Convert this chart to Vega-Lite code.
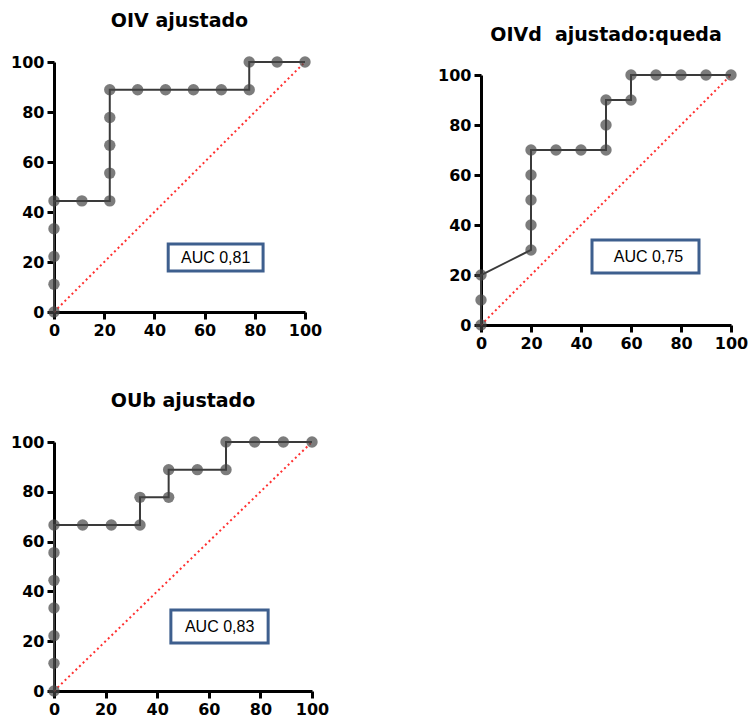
{
  "$schema": "https://vega.github.io/schema/vega-lite/v6.json",
  "padding": {"left": 10, "top": 12, "right": 5, "bottom": 5},
  "background": "white",
  "config": {
    "view": {"stroke": null},
    "axis": {
      "domainColor": "black", "domainWidth": 3, "tickColor": "black", "tickWidth": 3, "tickSize": 7,
      "labelFont": "DejaVu Sans", "labelFontWeight": "bold", "labelFontSize": 16, "labelColor": "black",
      "grid": false, "title": null, "values": [0, 20, 40, 60, 80, 100], "labelPadding": 3, "labelFlush": false
    },
    "title": {"font": "DejaVu Sans", "fontSize": 19, "fontWeight": "bold", "color": "black", "anchor": "middle", "frame": "group", "offset": 23},
    "concat": {"spacing": 20}
  },
  "datasets": {
    "roc1": [
      {"fpr": 0, "sens": 0}, {"fpr": 0, "sens": 11.11}, {"fpr": 0, "sens": 22.22}, {"fpr": 0, "sens": 33.33}, {"fpr": 0, "sens": 44.44},
      {"fpr": 11.11, "sens": 44.44}, {"fpr": 22.22, "sens": 44.44}, {"fpr": 22.22, "sens": 55.56}, {"fpr": 22.22, "sens": 66.67},
      {"fpr": 22.22, "sens": 77.78}, {"fpr": 22.22, "sens": 88.89}, {"fpr": 33.33, "sens": 88.89}, {"fpr": 44.44, "sens": 88.89},
      {"fpr": 55.56, "sens": 88.89}, {"fpr": 66.67, "sens": 88.89}, {"fpr": 77.78, "sens": 88.89}, {"fpr": 77.78, "sens": 100},
      {"fpr": 88.89, "sens": 100}, {"fpr": 100, "sens": 100}
    ],
    "roc2": [
      {"fpr": 0, "sens": 0}, {"fpr": 0, "sens": 10}, {"fpr": 0, "sens": 20}, {"fpr": 20, "sens": 30}, {"fpr": 20, "sens": 40},
      {"fpr": 20, "sens": 50}, {"fpr": 20, "sens": 60}, {"fpr": 20, "sens": 70}, {"fpr": 30, "sens": 70}, {"fpr": 40, "sens": 70},
      {"fpr": 50, "sens": 70}, {"fpr": 50, "sens": 80}, {"fpr": 50, "sens": 90}, {"fpr": 60, "sens": 90}, {"fpr": 60, "sens": 100},
      {"fpr": 70, "sens": 100}, {"fpr": 80, "sens": 100}, {"fpr": 90, "sens": 100}, {"fpr": 100, "sens": 100}
    ],
    "roc3": [
      {"fpr": 0, "sens": 0}, {"fpr": 0, "sens": 11.11}, {"fpr": 0, "sens": 22.22}, {"fpr": 0, "sens": 33.33}, {"fpr": 0, "sens": 44.44},
      {"fpr": 0, "sens": 55.56}, {"fpr": 0, "sens": 66.67}, {"fpr": 11.11, "sens": 66.67}, {"fpr": 22.22, "sens": 66.67},
      {"fpr": 33.33, "sens": 66.67}, {"fpr": 33.33, "sens": 77.78}, {"fpr": 44.44, "sens": 77.78}, {"fpr": 44.44, "sens": 88.89},
      {"fpr": 55.56, "sens": 88.89}, {"fpr": 66.67, "sens": 88.89}, {"fpr": 66.67, "sens": 100}, {"fpr": 77.78, "sens": 100},
      {"fpr": 88.89, "sens": 100}, {"fpr": 100, "sens": 100}
    ],
    "diag": [{"fpr": 0, "sens": 0}, {"fpr": 100, "sens": 100}],
    "none": []
  },
  "vconcat": [
    {
      "hconcat": [
        {
          "title": "OIV ajustado",
          "width": 251, "height": 250,
          "layer": [
            {"data": {"name": "diag"}, "mark": {"type": "line", "color": "#ff3030", "strokeWidth": 2, "strokeDash": [2, 3]},
             "encoding": {"x": {"field": "fpr", "type": "quantitative", "scale": {"domain": [0, 100], "nice": false}}, "y": {"field": "sens", "type": "quantitative", "scale": {"domain": [0, 100], "nice": false}}}},
            {"data": {"name": "roc1"}, "mark": {"type": "line", "color": "#3a3a3a", "strokeWidth": 2},
             "encoding": {"x": {"field": "fpr", "type": "quantitative"}, "y": {"field": "sens", "type": "quantitative"}, "order": [{"field": "fpr"}, {"field": "sens"}]}},
            {"data": {"name": "roc1"}, "mark": {"type": "circle", "size": 130, "color": "#454545", "opacity": 0.7},
             "encoding": {"x": {"field": "fpr", "type": "quantitative"}, "y": {"field": "sens", "type": "quantitative"}}},
            {"data": {"values": [{"label": "AUC 0,81"}]}, "mark": {"type": "rect", "fill": "white", "stroke": "#3e5f8e", "strokeWidth": 3},
             "encoding": {"x": {"datum": 45.5, "type": "quantitative"}, "x2": {"datum": 83.3}, "y": {"datum": 16.4, "type": "quantitative"}, "y2": {"datum": 27.2}}},
            {"data": {"values": [{"label": "AUC 0,81"}]}, "mark": {"type": "text", "font": "Liberation Sans", "fontSize": 16, "color": "black"},
             "encoding": {"x": {"datum": 64.4, "type": "quantitative"}, "y": {"datum": 21.8, "type": "quantitative"}, "text": {"field": "label"}}}
          ]
        },
        {
          "vconcat": [
            {
              "title": {"text": "OIVd\u00a0 ajustado:queda", "offset": 17},
              "width": 250, "height": 1,
              "data": {"name": "none"},
              "mark": {"type": "rule", "opacity": 0},
              "encoding": {}
            },
            {
              "width": 250, "height": 250,
              "layer": [
                {"data": {"name": "diag"}, "mark": {"type": "line", "color": "#ff3030", "strokeWidth": 2, "strokeDash": [2, 3]},
                 "encoding": {"x": {"field": "fpr", "type": "quantitative", "scale": {"domain": [0, 100], "nice": false}}, "y": {"field": "sens", "type": "quantitative", "scale": {"domain": [0, 100], "nice": false}}}},
                {"data": {"name": "roc2"}, "mark": {"type": "line", "color": "#3a3a3a", "strokeWidth": 2},
                 "encoding": {"x": {"field": "fpr", "type": "quantitative"}, "y": {"field": "sens", "type": "quantitative"}, "order": [{"field": "fpr"}, {"field": "sens"}]}},
                {"data": {"name": "roc2"}, "mark": {"type": "circle", "size": 130, "color": "#454545", "opacity": 0.7},
                 "encoding": {"x": {"field": "fpr", "type": "quantitative"}, "y": {"field": "sens", "type": "quantitative"}}},
                {"data": {"values": [{"label": "AUC 0,75"}]}, "mark": {"type": "rect", "fill": "white", "stroke": "#3e5f8e", "strokeWidth": 3},
                 "encoding": {"x": {"datum": 44.4, "type": "quantitative"}, "x2": {"datum": 87.2}, "y": {"datum": 20.8, "type": "quantitative"}, "y2": {"datum": 34}}},
                {"data": {"values": [{"label": "AUC 0,75"}]}, "mark": {"type": "text", "font": "Liberation Sans", "fontSize": 16, "color": "black"},
                 "encoding": {"x": {"datum": 67, "type": "quantitative"}, "y": {"datum": 27.4, "type": "quantitative"}, "text": {"field": "label"}}}
              ]
            }
          ],
          "spacing": 4
        }
      ],
      "spacing": 115
    },
    {
      "title": "OUb ajustado",
      "width": 258, "height": 249,
      "layer": [
        {"data": {"name": "diag"}, "mark": {"type": "line", "color": "#ff3030", "strokeWidth": 2, "strokeDash": [2, 3]},
         "encoding": {"x": {"field": "fpr", "type": "quantitative", "scale": {"domain": [0, 100], "nice": false}}, "y": {"field": "sens", "type": "quantitative", "scale": {"domain": [0, 100], "nice": false}}}},
        {"data": {"name": "roc3"}, "mark": {"type": "line", "color": "#3a3a3a", "strokeWidth": 2},
         "encoding": {"x": {"field": "fpr", "type": "quantitative"}, "y": {"field": "sens", "type": "quantitative"}, "order": [{"field": "fpr"}, {"field": "sens"}]}},
        {"data": {"name": "roc3"}, "mark": {"type": "circle", "size": 130, "color": "#454545", "opacity": 0.7},
         "encoding": {"x": {"field": "fpr", "type": "quantitative"}, "y": {"field": "sens", "type": "quantitative"}}},
        {"data": {"values": [{"label": "AUC 0,83"}]}, "mark": {"type": "rect", "fill": "white", "stroke": "#3e5f8e", "strokeWidth": 3},
         "encoding": {"x": {"datum": 45.3, "type": "quantitative"}, "x2": {"datum": 83}, "y": {"datum": 19.3, "type": "quantitative"}, "y2": {"datum": 32.5}}},
        {"data": {"values": [{"label": "AUC 0,83"}]}, "mark": {"type": "text", "font": "Liberation Sans", "fontSize": 16, "color": "black"},
         "encoding": {"x": {"datum": 64.2, "type": "quantitative"}, "y": {"datum": 25.9, "type": "quantitative"}, "text": {"field": "label"}}}
      ]
    }
  ],
  "spacing": 41
}
